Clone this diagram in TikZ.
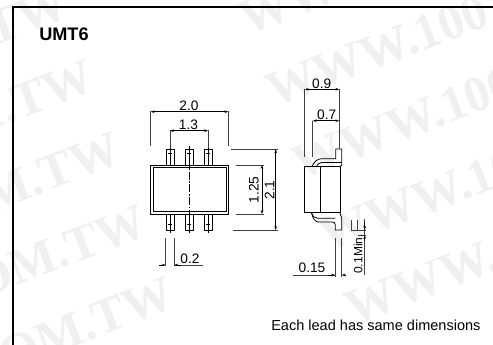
\documentclass[tikz,border=0pt]{standalone}
\usepackage{fontspec}
\setmainfont{Liberation Sans}
\newfontfamily\wmfont{Liberation Serif}
\usetikzlibrary{arrows.meta}
\tikzset{
  x=0.75pt,y=-0.75pt,
  dimtext/.style={inner sep=0pt,font=\fontsize{10.3pt}{11pt}\selectfont,text=black},
  part/.style={draw=black,line width=0.6pt,line join=round},
  partthin/.style={draw=black,line width=0.45pt},
  dimline/.style={draw=black,line width=0.4pt,{Stealth[length=3pt,width=2pt]}-{Stealth[length=3pt,width=2pt]}},
  dimtip/.style={draw=black,line width=0.4pt,-{Stealth[length=3pt,width=2pt]}},
  extline/.style={draw=black!75,line width=0.45pt},
  centerline/.style={draw=black,line width=0.45pt,dash pattern=on 6pt off 1.2pt on 1.2pt off 1.2pt},
  watermark/.style={rotate=21,anchor=base west,inner sep=0pt,text=black!6,font=\wmfont\bfseries\fontsize{37.5pt}{40pt}\selectfont},
}
\begin{document}
\begin{tikzpicture}
\useasboundingbox (0,0) rectangle (493,345);
\clip (0,0) rectangle (493,345);
\fill[white] (0,0) rectangle (493,345);
% watermark
\foreach \r in {-2,...,3}{
  \node[watermark] at ({274+26.5*\r},{108+72.5*\r}) {WWW.100Y.COM.TW};
}
\foreach \r in {-2,...,3}{
  \node[watermark] at ({-365+26.5*\r},{267+72.5*\r}) {WWW.100Y.COM.TW};
}
% frame
\draw[line width=1.6pt,black] (13,350) -- (13,7) -- (500,7);
\node[anchor=base west,inner sep=0pt,font=\bfseries\fontsize{13.6pt}{15pt}\selectfont] (title) at (39,41) {UMT6};
% front view: leads
\foreach \x in {170,189,208}{
  \draw[part] (\x-4,165) -- (\x-4,149.3) -- (\x+4,149.3) -- (\x+4,165);
  \draw[part] (\x-4,214) -- (\x-4,230) -- (\x+4,230) -- (\x+4,214);
  \draw[partthin] (\x,147) -- (\x,168);
  \draw[partthin] (\x,212) -- (\x,233);
  \draw[partthin,dash pattern=on 1.2pt off 1.2pt] (\x-2,153) -- (\x+2,153);
  \draw[partthin,dash pattern=on 1.2pt off 1.2pt] (\x-2,224) -- (\x+2,224);
}
% front view: body
\draw[part,fill=white] (150.7,165) rectangle (228.3,214);
\draw[part] (153,167.7) rectangle (226,211);
\draw[centerline] (189,146) -- (189,233);
% front view dimensions
\draw[extline] (150.7,111) -- (150.7,146);
\draw[extline] (228.3,111) -- (228.3,146);
\draw[dimline] (150.7,111.7) -- (228.3,111.7);
\node[dimtext] (d20) at (189,105.5) {2.0};
\draw[extline] (170,130) -- (170,148);
\draw[extline] (208,130) -- (208,148);
\draw[dimline] (170,130.7) -- (208,130.7);
\node[dimtext] (d13) at (188.5,125) {1.3};
\draw[extline] (231,149.3) -- (278,149.3);
\draw[extline] (233,230) -- (278,230);
\draw[dimline] (275.7,149.3) -- (275.7,230);
\node[dimtext,rotate=90] (d21) at (269.5,190) {2.1};
\draw[extline] (236,165) -- (264,165);
\draw[extline] (236,214) -- (264,214);
\draw[dimline] (262,165) -- (262,214);
\node[dimtext,rotate=90] (d125) at (254,190) {1.25};
\draw[extline] (165.7,238) -- (165.7,266);
\draw[extline] (174.3,238) -- (174.3,266);
\draw[extline] (174.3,265) -- (203,265);
\draw[dimtip] (159,265) -- (165.7,265);
\draw[dimtip] (181,265) -- (174.3,265);
\node[dimtext] (d02) at (190,259) {0.2};
% side view
\draw[part] (304.7,166.7) -- (340,166.7) -- (340,212.7) -- (304.7,212.7) -- cycle;
\draw[part] (320.7,166.7) -- (320.7,212.7);
\draw[part] (312,166.5) .. controls (314,162) and (317,158.7) .. (322,158.7) -- (335.7,158.7) -- (335.7,149) -- (341.7,149) -- (341.7,165) -- (340,166.7);
\draw[part] (316.5,166.5) .. controls (317.5,164) and (319,162.5) .. (322,162.5) -- (341.7,162.5);
\draw[part] (311.7,213) .. controls (312.5,216.5) and (315,218.3) .. (318,218.3) -- (335.3,218.3);
\draw[part] (340,213) .. controls (340.5,215) and (341.7,216) .. (341.7,218.3) -- (341.7,230) -- (335.3,230) -- (335.3,225) .. controls (335.3,222.5) and (334,222) .. (332,222) -- (318,222) .. controls (315,222) and (312.5,218) .. (311.7,213);
% side view dimensions
\draw[extline] (304.7,89) -- (304.7,157.3);
\draw[extline] (339.3,89) -- (339.3,149);
\draw[dimline] (304.7,89.3) -- (339.3,89.3);
\node[dimtext] (d09) at (321.7,83.3) {0.9};
\draw[extline] (312.7,120.7) -- (312.7,157.3);
\draw[dimline] (312.7,120.7) -- (339.3,120.7);
\node[dimtext] (d07) at (326.7,115) {0.7};
\draw[extline] (335,238.3) -- (335,276.7);
\draw[extline] (341.7,238.3) -- (341.7,276.7);
\draw[extline] (293.3,275) -- (335,275);
\draw[dimtip] (328,275) -- (335,275);
\draw[dimtip] (346,275) -- (341.7,275);
\node[dimtext] (d015) at (312,268) {0.15};
\draw[extline] (351,220) -- (351,230) -- (366,230);
\draw[extline] (357,220) -- (357,230);
\draw[extline] (358,235) -- (366,235);
\draw[extline] (364.7,219) -- (364.7,275);
\draw[dimtip] (364.7,222) -- (364.7,230);
\draw[dimtip] (364.7,241) -- (364.7,235);
\node[dimtext,rotate=90,font=\fontsize{9pt}{10pt}\selectfont] (d01) at (358,254) {0.1Min.};
% note
\node[anchor=base west,inner sep=0pt,font=\fontsize{10.9pt}{12pt}\selectfont] (note) at (271,331) {Each lead has same dimensions};
\end{tikzpicture}
\end{document}
